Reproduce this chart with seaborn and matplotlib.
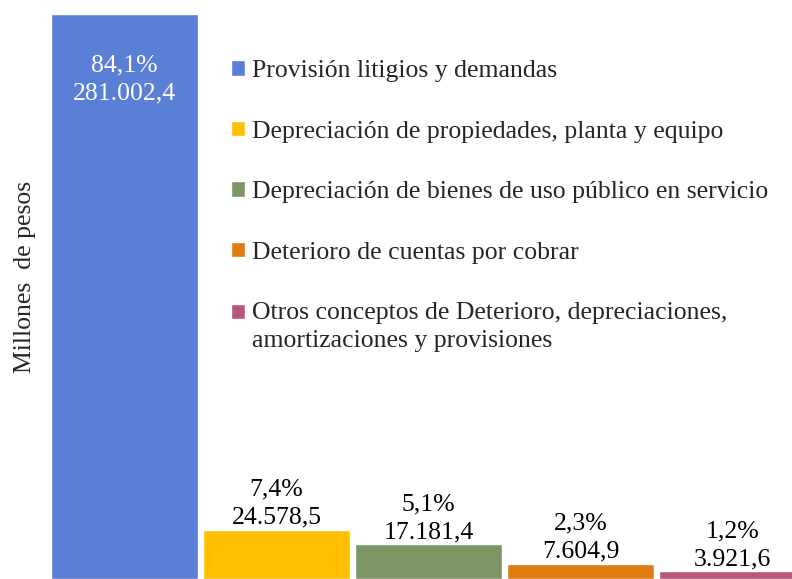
import numpy as np
import pandas as pd
import matplotlib.pyplot as plt
import seaborn as sns

# datos
categorias = ['Provisión litigios y demandas',
              'Depreciación de propiedades, planta y equipo',
              'Depreciación de bienes de uso público en servicio',
              'Deterioro de cuentas por cobrar',
              'Otros conceptos de Deterioro, depreciaciones,\namortizaciones y provisiones']
valores = [281002.4, 24578.5, 17181.4, 7604.9, 3921.6]
porcentajes = ['84,1%', '7,4%', '5,1%', '2,3%', '1,2%']
etiquetas_valor = ['281.002,4', '24.578,5', '17.181,4', '7.604,9', '3.921,6']

colores = ['#5A7FD6', '#FFC000', '#7C9665', '#DE7C12', '#B8557A']

df = pd.DataFrame({'cat': categorias, 'valor': valores})

sns.set_style('white')
plt.rcParams['font.family'] = ['Liberation Serif', 'DejaVu Serif']

fig = plt.figure(figsize=(7.92, 5.79), dpi=100)
ax = fig.add_axes([0, 0, 1, 1])

sns.barplot(data=df, x='cat', y='valor', hue='cat', palette=colores,
            width=0.967, legend=False, ax=ax, saturation=1)

ax.set_xlim(-0.819, 4.391)
ax.set_ylim(0, 287965)
for s in ax.spines.values():
    s.set_visible(False)
ax.set_xticks([])
ax.set_yticks([])
ax.set_xlabel('')
ax.set_ylabel('')

# etiquetas de datos
fs = 18.5
for i, (v, p, e) in enumerate(zip(valores, porcentajes, etiquetas_valor)):
    if i == 0:
        ax.annotate(f'{p}\n{e}', (i, v), xytext=(0, -65), textcoords='offset pixels',
                    ha='center', va='center', color='white', fontsize=fs, linespacing=1.35)
    else:
        ax.annotate(f'{p}\n{e}', (i, v), xytext=(0, 1), textcoords='offset pixels',
                    ha='center', va='bottom', color='black', fontsize=fs, linespacing=1.35)

fig.text(25 / 792, 1 - 277 / 579, 'Millones  de pesos', rotation=90,
         ha='center', va='center', fontsize=fs)

handles = [c.patches[0] for c in ax.containers]
leg = ax.legend(handles, categorias, loc='upper left', bbox_to_anchor=(231 / 792, 1 - 60 / 579),
                frameon=False, fontsize=fs, labelspacing=1.5, handlelength=0.55, handleheight=0.55,
                handletextpad=0.25, borderpad=0, borderaxespad=0)
for t in leg.get_texts():
    t.set_linespacing(1.35)

# marcador de la entrada de dos líneas alineado con la primera línea
columna = leg._legend_handle_box.get_children()[0]
ultima = columna.get_children()[-1]
ultima.align = 'top'
caja_marcador = ultima.get_children()[0]
caja_marcador.height += 1

fig.savefig('out.png', dpi=100)
